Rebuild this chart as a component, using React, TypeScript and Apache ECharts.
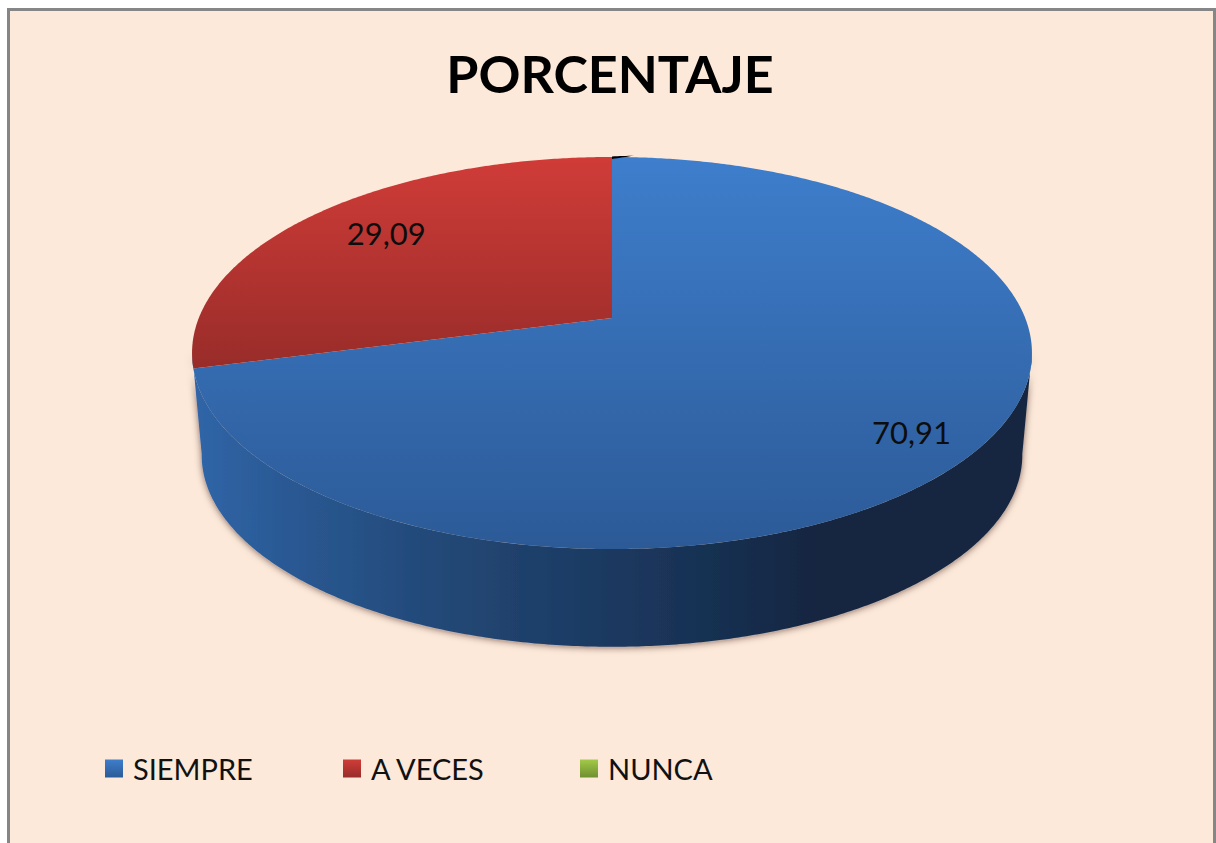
import React, { useEffect, useRef } from "react";
import * as echarts from "echarts";

const titleText = "PORCENTAJE";
const categories = ["SIEMPRE", "A VECES", "NUNCA"];
const values = [70.91, 29.09, 0];
const valueLabels = ["70,91", "29,09", ""];

const FONT = "Lato";
const APEX_X = 612;
const APEX_Y = 318;
const A = 413.2;
const B = 189.8;
const K = -0.1786;
const SIDE_SCALE = 0.977;
const SIDE_SHIFT = 103;
const total = values.reduce((a, b) => a + b, 0);
const labelRadius = [0.84, 0.75, 0];
const labelNudge = [
  [-3, 7],
  [1, -5],
  [0, 0],
];
const legendLeft = [100, 338, 575];

// perspective projection of the pie disc, f = fraction of radius
function project(deg: number, f = 1, scale = 1, shift = 0): number[] {
  const t = (deg * Math.PI) / 180;
  const X = f * Math.sin(t);
  const Y = -f * Math.cos(t);
  const w = 1 + K * Y;
  return [APEX_X + (scale * A * X) / w, APEX_Y + (scale * B * Y) / w + shift];
}

function arc(from: number, to: number, scale = 1, shift = 0): number[][] {
  const pts: number[][] = [];
  const n = Math.max(2, Math.ceil(Math.abs(to - from) * 2));
  for (let i = 0; i <= n; i++) pts.push(project(from + ((to - from) * i) / n, 1, scale, shift));
  return pts;
}

const vgrad = (a: string, b: string) =>
  new echarts.graphic.LinearGradient(0, 0, 0, 1, [
    { offset: 0, color: a },
    { offset: 1, color: b },
  ]);

const topColors = [
  vgrad("#3e7ecc", "#2c5a97"),
  vgrad("#d03c38", "#982c29"),
  vgrad("#a2ca48", "#6f8f30"),
];

function makeSeries(index: number) {
  const start = (values.slice(0, index).reduce((a, b) => a + b, 0) / total) * 360;
  return {
    type: "custom",
    name: categories[index],
    coordinateSystem: "none",
    itemStyle: { color: topColors[index] },
    data: [[values[index]]],
    renderItem: (_p: any, api: any) => {
      const v = api.value(0) as number;
      const sweep = (v / total) * 360;
      const children: any[] = [];
      if (index === 0) {
        const side = [...arc(100, 260), ...arc(260, 100, SIDE_SCALE, SIDE_SHIFT)];
        children.push({
          type: "polygon",
          shape: { points: side },
          style: {
            fill: new echarts.graphic.LinearGradient(0, 0, 1, 0, [
              { offset: 0, color: "#3066a8" },
              { offset: 0.1, color: "#2b5a96" },
              { offset: 0.3, color: "#224876" },
              { offset: 0.55, color: "#1a355a" },
              { offset: 0.75, color: "#132640" },
              { offset: 1, color: "#14283f" },
            ]),
            shadowColor: "rgba(40,25,10,0.55)",
            shadowBlur: 7,
            shadowOffsetY: 1,
          },
        });
      }
      if (v > 0) {
        children.push({
          type: "polygon",
          shape: { points: [[APEX_X, APEX_Y], ...arc(start, start + sweep)] },
          style: { fill: topColors[index] },
        });
        const mid = start + sweep / 2;
        const c = project(mid, labelRadius[index]);
        children.push({
          type: "text",
          x: c[0] + labelNudge[index][0],
          y: c[1] + labelNudge[index][1],
          style: {
            text: valueLabels[index],
            fontFamily: FONT,
            fontSize: 31,
            fill: "#0d0d0d",
            align: "center",
            verticalAlign: "middle",
          },
        });
      } else {
        // the empty slice shows only as a thin dark sliver on the rim
        const rim = arc(0, 3.6);
        const last = rim.length - 1;
        const centre = rim.map((p, i) => [p[0], p[1] + 0.8 - (2.3 * i) / last]);
        const half = (i: number) => 1.3 * (1 - i / last);
        const upper = centre.map((p, i) => [p[0], p[1] - half(i)]);
        const lower = centre.map((p, i) => [p[0], p[1] + half(i)]).reverse();
        children.push({
          type: "polygon",
          shape: { points: [...upper, ...lower] },
          style: { fill: "#000000" },
        });
      }
      return { type: "group", children };
    },
  };
}

export default function App() {
  const ref = useRef<HTMLDivElement>(null);
  useEffect(() => {
    document.body.style.margin = "0";
    const chart = echarts.init(ref.current!, null, { renderer: "svg" });
    chart.setOption({
      animation: false,
      backgroundColor: "#ffffff",
      graphic: [
        {
          type: "rect",
          z: -1,
          shape: { x: 8.5, y: 9.5, width: 1206, height: 900 },
          style: { fill: "#fde9d9", stroke: "#868686", lineWidth: 3 },
        },
      ],
      title: {
        text: titleText,
        left: 605,
        textAlign: "center",
        top: 42,
        textStyle: { fontFamily: FONT, fontWeight: "bold", fontSize: 52, color: "#000000" },
      },
      legend: categories.map((c, i) => ({
        data: [c],
        left: legendLeft[i],
        top: 749,
        icon: "rect",
        itemWidth: 18,
        itemHeight: 18,
        selectedMode: false,
        textStyle: { fontFamily: FONT, fontSize: 29, color: "#111111", padding: [0, 0, 0, 5] },
      })),
      series: categories.map((_, i) => makeSeries(i)),
    });
    return () => chart.dispose();
  }, []);
  return <div ref={ref} style={{ width: 1216, height: 843 }} />;
}
